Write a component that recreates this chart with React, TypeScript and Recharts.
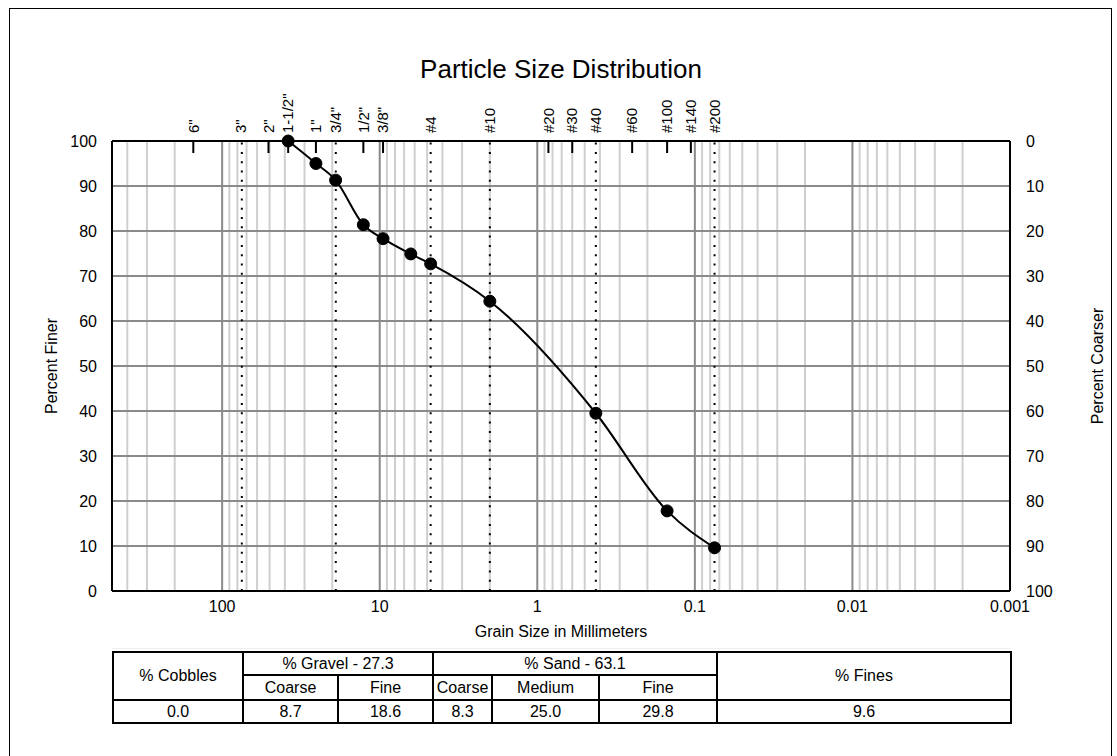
import { ComposedChart, Line, XAxis, YAxis, ReferenceLine } from 'recharts';

// sieve openings shown along the top edge (mm)
const sieveLabels = ['6"', '3"', '2"', '1-1/2"', '1"', '3/4"', '1/2"', '3/8"', '#4', '#10', '#20', '#30', '#40', '#60', '#100', '#140', '#200'];
const sieveSizes = [152.4, 76.2, 50.8, 38.1, 25.4, 19.05, 12.7, 9.525, 4.75, 2.0, 0.85, 0.6, 0.425, 0.25, 0.15, 0.106, 0.075];
// sieves that sit on a classification boundary get a dotted line instead of a tick
const boundarySieves = ['3"', '3/4"', '#4', '#10', '#40', '#200'];
const boundarySizes = [75, 19, 4.75, 2.0, 0.425, 0.075];

// test results
const grainSizes = [38.1, 25.4, 19.05, 12.7, 9.525, 6.35, 4.75, 2.0, 0.425, 0.15, 0.075];
const percentFiner = [100, 95.0, 91.3, 81.4, 78.3, 74.9, 72.7, 64.4, 39.5, 17.8, 9.6];

const mmTicks = [100, 10, 1, 0.1, 0.01, 0.001];
const percentTicks = [0, 10, 20, 30, 40, 50, 60, 70, 80, 90, 100];
const majorLines = [100, 10, 1, 0.1, 0.01];
const decades = [0.001, 0.01, 0.1, 1, 10, 100];
const multipliers = [2, 3, 4, 5, 6, 7, 8, 9];

// table
const gravelTotal = '27.3';
const sandTotal = '63.1';
const subHeaders = ['Coarse', 'Fine', 'Coarse', 'Medium', 'Fine'];
const tableValues = ['0.0', '8.7', '18.6', '8.3', '25.0', '29.8', '9.6'];
const colWidths = [130, 95, 95, 59, 107, 118, 294];

const data = grainSizes.map((s, i) => ({ size: s, finer: percentFiner[i], coarser: 100 - percentFiner[i] }));

const minorLines: number[] = [];
decades.forEach((d) => {
  multipliers.forEach((m) => {
    const v = m * d;
    if (v < 500) minorLines.push(v);
  });
});

const SieveTick = (props: any) => {
  const { x, y, payload } = props;
  const label = sieveLabels[sieveSizes.indexOf(payload.value)];
  return (
    <g>
      {!boundarySieves.includes(label) && (
        <line x1={x} x2={x} y1={y + 8} y2={y + 20} stroke="#000" strokeWidth={2} />
      )}
      <text x={x} y={y} dy="0.35em" transform={`rotate(-90 ${x} ${y})`} textAnchor="start" fontSize={15} fill="#000">
        {label}
      </text>
    </g>
  );
};

const cell: React.CSSProperties = { border: '2px solid #000', padding: 0, textAlign: 'center', fontWeight: 'normal', lineHeight: '18px' };

export default function App() {
  return (
    <div style={{ position: 'absolute', left: 0, top: 0, width: 1117, height: 756, overflow: 'hidden', background: '#fff', fontFamily: '"Liberation Sans", Arial, sans-serif', color: '#000' }}>
      <div style={{ position: 'absolute', left: 9, top: 8, width: 1103, height: 800, border: '1.5px solid #000', boxSizing: 'border-box' }} />

      <div style={{ position: 'absolute', left: 112, width: 898, top: 54, textAlign: 'center', fontSize: 26, lineHeight: '30px' }}>Particle Size Distribution</div>

      <ComposedChart
        width={1117}
        height={640}
        data={data}
        margin={{ top: 81, right: 47, left: 52, bottom: 19 }}
        style={{ position: 'absolute', left: 0, top: 0 }}
      >
        <XAxis
          dataKey="size"
          type="number"
          scale="log"
          domain={[0.001, 500]}
          reversed
          allowDataOverflow
          ticks={mmTicks}
          interval={0}
          tickFormatter={(v: number) => String(v)}
          tickLine={false}
          tickMargin={4}
          height={30}
          axisLine={{ stroke: '#000', strokeWidth: 2 }}
          tick={{ fill: '#000', fontSize: 16 }}
        />
        <XAxis
          xAxisId="top"
          orientation="top"
          dataKey="size"
          type="number"
          scale="log"
          domain={[0.001, 500]}
          reversed
          allowDataOverflow
          ticks={sieveSizes}
          interval={0}
          tickLine={false}
          tickSize={0}
          tickMargin={8}
          height={60}
          axisLine={{ stroke: '#000', strokeWidth: 2 }}
          tick={<SieveTick />}
        />
        <YAxis
          type="number"
          domain={[0, 100]}
          ticks={percentTicks}
          interval={0}
          tickLine={false}
          tickMargin={9}
          width={60}
          axisLine={{ stroke: '#000', strokeWidth: 2 }}
          tick={{ fill: '#000', fontSize: 16 }}
        />
        <YAxis
          yAxisId="right"
          orientation="right"
          type="number"
          domain={[0, 100]}
          reversed
          allowDataOverflow
          ticks={percentTicks}
          interval={0}
          tickLine={false}
          tickMargin={10}
          width={60}
          axisLine={{ stroke: '#000', strokeWidth: 2 }}
          tick={{ fill: '#000', fontSize: 16 }}
        />

        {minorLines.map((v) => (
          <ReferenceLine key={`mi-${v}`} x={v} stroke="#cfcfcf" strokeWidth={2} />
        ))}
        {majorLines.map((v) => (
          <ReferenceLine key={`ma-${v}`} x={v} stroke="#8a8a8a" strokeWidth={2} />
        ))}
        {percentTicks.slice(1, -1).map((v) => (
          <ReferenceLine key={`h-${v}`} y={v} stroke="#8a8a8a" strokeWidth={2} />
        ))}
        {boundarySizes.map((v) => (
          <ReferenceLine key={`b-${v}`} x={v} stroke="#000" strokeWidth={2} strokeDasharray="2 7.3" />
        ))}

        {/* same curve read against the right-hand (percent coarser) axis, kept invisible */}
        <Line
          yAxisId="right"
          dataKey="coarser"
          type="monotone"
          stroke="none"
          dot={false}
          activeDot={false}
          isAnimationActive={false}
        />
        <Line
          dataKey="finer"
          type="monotone"
          stroke="#000"
          strokeWidth={2}
          dot={{ r: 6, fill: '#000', stroke: '#000', strokeWidth: 1 }}
          activeDot={false}
          isAnimationActive={false}
        />
      </ComposedChart>

      <div style={{ position: 'absolute', left: 52, top: 366, transform: 'translate(-50%, -50%) rotate(-90deg)', fontSize: 16, whiteSpace: 'nowrap' }}>Percent Finer</div>
      <div style={{ position: 'absolute', left: 1098, top: 366, transform: 'translate(-50%, -50%) rotate(-90deg)', fontSize: 16, whiteSpace: 'nowrap' }}>Percent Coarser</div>
      <div style={{ position: 'absolute', left: 112, width: 898, top: 622, textAlign: 'center', fontSize: 16, lineHeight: '20px' }}>Grain Size in Millimeters</div>
      <div style={{ position: 'absolute', left: 112, width: 898, top: 648, height: 1, background: '#eee' }} />

      <table style={{ position: 'absolute', left: 112, top: 651, width: 898, borderCollapse: 'collapse', tableLayout: 'fixed', fontSize: 16 }}>
        <colgroup>
          {colWidths.map((w, i) => (
            <col key={i} style={{ width: w }} />
          ))}
        </colgroup>
        <tbody>
          <tr style={{ height: 23 }}>
            <td style={cell} rowSpan={2}>% Cobbles</td>
            <td style={cell} colSpan={2}>% Gravel - {gravelTotal}</td>
            <td style={cell} colSpan={3}>% Sand - {sandTotal}</td>
            <td style={cell} rowSpan={2}>% Fines</td>
          </tr>
          <tr style={{ height: 25 }}>
            {subHeaders.map((h, i) => (
              <td key={i} style={cell}>{h}</td>
            ))}
          </tr>
          <tr style={{ height: 23 }}>
            {tableValues.map((v, i) => (
              <td key={i} style={cell}>{v}</td>
            ))}
          </tr>
        </tbody>
      </table>
    </div>
  );
}
